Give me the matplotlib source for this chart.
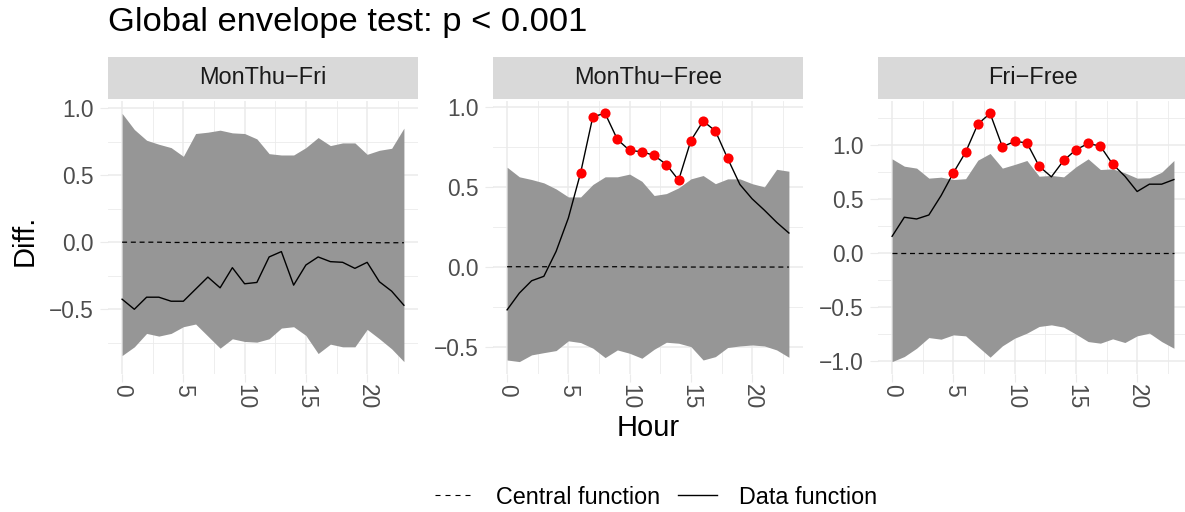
import numpy as np
import matplotlib
matplotlib.use("Agg")
import matplotlib.pyplot as plt
from matplotlib.lines import Line2D
from matplotlib.ticker import MultipleLocator

plt.rcParams["font.family"] = ["Liberation Sans", "DejaVu Sans"]

# ---------------------------------------------------------------------------
# Data
# ---------------------------------------------------------------------------
hours = list(range(24))
panel_names = ["MonThu\u2212Fri", "MonThu\u2212Free", "Fri\u2212Free"]

upper_monthu_fri = [0.96, 0.84, 0.76, 0.73, 0.705, 0.64, 0.81, 0.82, 0.835, 0.815, 0.81, 0.77,
                    0.66, 0.65, 0.65, 0.705, 0.78, 0.72, 0.74, 0.74, 0.655, 0.685, 0.70, 0.85]
lower_monthu_fri = [-0.845, -0.78, -0.68, -0.70, -0.68, -0.63, -0.61, -0.70, -0.79, -0.72, -0.74, -0.745,
                    -0.72, -0.64, -0.63, -0.695, -0.83, -0.76, -0.78, -0.78, -0.65, -0.72, -0.795, -0.89]
data_monthu_fri = [-0.425, -0.50, -0.41, -0.41, -0.44, -0.44, -0.35, -0.26, -0.34, -0.19, -0.31, -0.30,
                   -0.11, -0.07, -0.32, -0.17, -0.11, -0.145, -0.15, -0.195, -0.15, -0.295, -0.365, -0.47]
central_monthu_fri = [0.0, 0.0, 0.0, 0.0, -0.002, -0.002, -0.002, -0.002, -0.002, -0.003, -0.003, -0.003,
                      -0.003, -0.003, -0.003, -0.003, -0.003, -0.003, -0.003, -0.003, -0.003, -0.004, -0.004, -0.004]

upper_monthu_free = [0.623, 0.563, 0.546, 0.525, 0.487, 0.437, 0.437, 0.515, 0.563, 0.563, 0.58, 0.535,
                     0.446, 0.458, 0.494, 0.55, 0.571, 0.52, 0.55, 0.55, 0.52, 0.50, 0.61, 0.598]
lower_monthu_free = [-0.584, -0.594, -0.552, -0.538, -0.525, -0.464, -0.475, -0.51, -0.569, -0.521, -0.542, -0.573,
                     -0.517, -0.473, -0.479, -0.50, -0.584, -0.563, -0.506, -0.496, -0.49, -0.496, -0.521, -0.567]
data_monthu_free = [-0.27, -0.165, -0.088, -0.06, 0.096, 0.305, 0.588, 0.94, 0.96, 0.797, 0.728, 0.72,
                    0.697, 0.64, 0.542, 0.79, 0.912, 0.85, 0.678, 0.515, 0.425, 0.354, 0.278, 0.211]
central_monthu_free = [0.0, 0.0, 0.0, 0.0, 0.0, 0.0, 0.0, 0.0, 0.0, 0.0, 0.0, -0.002,
                       -0.002, -0.002, -0.002, -0.002, -0.002, -0.002, -0.002, -0.002, -0.002, -0.002, -0.002, -0.002]

upper_fri_free = [0.874, 0.806, 0.788, 0.695, 0.704, 0.682, 0.69, 0.862, 0.924, 0.788, 0.822, 0.859,
                  0.713, 0.72, 0.707, 0.80, 0.874, 0.775, 0.781, 0.744, 0.695, 0.698, 0.75, 0.859]
lower_fri_free = [-1.008, -0.961, -0.884, -0.785, -0.80, -0.76, -0.769, -0.868, -0.967, -0.862, -0.791, -0.744,
                  -0.682, -0.667, -0.688, -0.753, -0.822, -0.837, -0.797, -0.831, -0.769, -0.744, -0.822, -0.884]
data_fri_free = [0.155, 0.332, 0.316, 0.353, 0.533, 0.744, 0.936, 1.197, 1.296, 0.986, 1.036, 1.023,
                 0.806, 0.707, 0.859, 0.958, 1.017, 0.992, 0.825, 0.713, 0.571, 0.639, 0.639, 0.682]
central_fri_free = [0.0, 0.0, 0.0, 0.0, 0.0, 0.0, 0.0, 0.0, 0.0, 0.0, 0.0, 0.0,
                    0.0, 0.0, 0.0, 0.0, 0.0, 0.0, 0.0, 0.0, 0.0, 0.0, 0.0, 0.0]

panels = [
    (upper_monthu_fri, lower_monthu_fri, data_monthu_fri, central_monthu_fri),
    (upper_monthu_free, lower_monthu_free, data_monthu_free, central_monthu_free),
    (upper_fri_free, lower_fri_free, data_fri_free, central_fri_free),
]

# ---------------------------------------------------------------------------
# Layout in pixels
# ---------------------------------------------------------------------------
W, H = 1185, 512
fig = plt.figure(figsize=(W / 100, H / 100), dpi=100)
fig.patch.set_facecolor("white")

panel_lefts = [108, 493, 878]
panel_w = 310
panel_top, panel_bot = 101, 374
strip_top, strip_bot = 57, 99

GRID = "#EBEBEB"
TICK_COL = "#4D4D4D"

for i, (name, (up, lo, dat, cen)) in enumerate(zip(panel_names, panels)):
    x0 = panel_lefts[i]
    ax = fig.add_axes([x0 / W, 1 - panel_bot / H, panel_w / W, (panel_bot - panel_top) / H])
    ax.set_facecolor("white")
    x = np.array(hours)
    up, lo, dat = np.array(up), np.array(lo), np.array(dat)
    ax.fill_between(x, lo, up, color="#969696", linewidth=0, zorder=2)
    ax.plot(x, cen, color="black", linestyle=(0, (4, 3)), linewidth=0.9, zorder=3)
    ax.plot(x, dat, color="black", linewidth=1.0, zorder=4)
    out = (dat > up) | (dat < lo)
    ax.plot(x[out], dat[out], "o", color="red", markersize=7.3, markeredgewidth=0, zorder=5)

    ax.margins(x=0.05, y=0.05)
    ax.xaxis.set_major_locator(MultipleLocator(5))
    ax.xaxis.set_minor_locator(MultipleLocator(2.5))
    ax.yaxis.set_major_locator(MultipleLocator(0.5))
    ax.yaxis.set_minor_locator(MultipleLocator(0.25))
    ax.grid(which="major", color=GRID, linewidth=1.1, zorder=0)
    ax.grid(which="minor", color=GRID, linewidth=0.6, zorder=0)
    ax.set_axisbelow(True)
    for s in ax.spines.values():
        s.set_visible(False)
    ax.tick_params(which="minor", length=0)
    ax.tick_params(which="major", length=5.8, width=0.8, color=GRID,
                   labelsize=16.4, labelcolor=TICK_COL)
    ax.tick_params(axis="y", pad=4.5)
    ax.tick_params(axis="x", pad=1.5)
    for lab in ax.get_xticklabels():
        lab.set_rotation(-90)
        lab.set_va("top")
        lab.set_ha("center")

    # facet strip
    sax = fig.add_axes([x0 / W, 1 - strip_bot / H, panel_w / W, (strip_bot - strip_top) / H])
    sax.set_facecolor("#D9D9D9")
    sax.set_xticks([])
    sax.set_yticks([])
    for s in sax.spines.values():
        s.set_visible(False)
    sax.text(0.5, 0.5, name, transform=sax.transAxes, ha="center", va="center",
             fontsize=16.9, color="#1A1A1A")

fig.text(108 / W, 1 - 22 / H, "Global envelope test: p < 0.001", ha="left", va="center",
         fontsize=24.8, color="black")
fig.text(25 / W, 1 - 240 / H, "Diff.", rotation=90, ha="center", va="center", fontsize=21)
fig.text(648 / W, 1 - 428 / H, "Hour", ha="center", va="center", fontsize=21)

handles = [Line2D([], [], color="black", linestyle=(0, (4.5, 4.5)), linewidth=0.8),
           Line2D([], [], color="black", linewidth=1.0)]
fig.legend(handles, ["Central function", "Data function"], loc="center",
           bbox_to_anchor=(656 / W, 1 - 497 / H), ncol=2, frameon=False, fontsize=16.8,
           handlelength=1.65, columnspacing=0.8, handletextpad=0.95)

fig.savefig("out.png", dpi=100)
